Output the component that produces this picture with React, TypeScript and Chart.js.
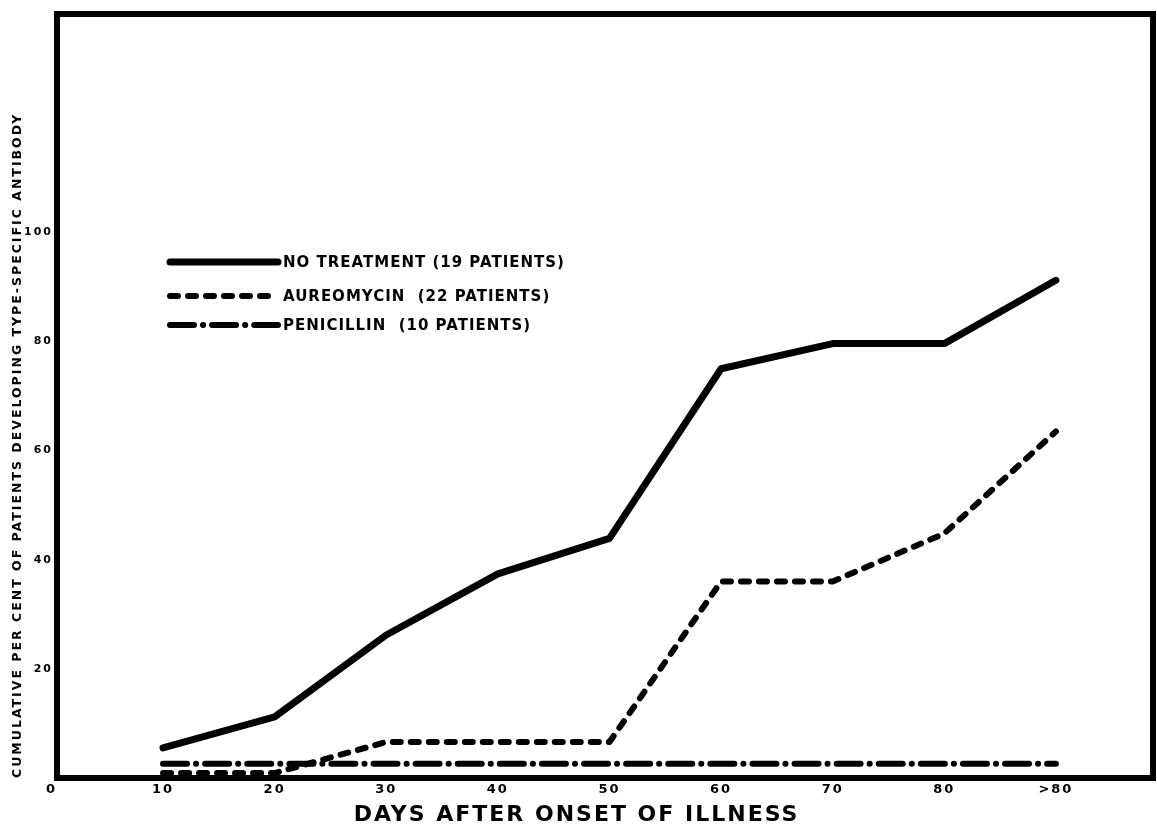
import React, { useEffect, useRef } from "react";
import { Chart, registerables } from "chart.js";

Chart.register(...registerables);

// ---- data ----
const days = [10, 20, 30, 40, 50, 60, 70, 80, 90]; // 90 stands for ">80"
const xTickValues = [0, 10, 20, 30, 40, 50, 60, 70, 80, 90];
const xTickText = ["0", "10", "20", "30", "40", "50", "60", "70", "80", ">80"];
const yTickValues = [20, 40, 60, 80, 100];

const noTreatment = [5.5, 11.2, 26.2, 37.4, 43.9, 75.0, 79.6, 79.6, 91.2];
const aureomycin = [0.9, 0.9, 6.6, 6.6, 6.6, 36.0, 36.0, 44.8, 63.5];
const penicillin = [2.6, 2.6, 2.6, 2.6, 2.6, 2.6, 2.6, 2.6, 2.6];

const seriesLabels = [
  "NO TREATMENT (19 PATIENTS)",
  "AUREOMYCIN  (22 PATIENTS)",
  "PENICILLIN  (10 PATIENTS)",
];

const xTitle = "DAYS AFTER ONSET OF ILLNESS";
const yTitle = "CUMULATIVE PER CENT OF PATIENTS DEVELOPING TYPE-SPECIFIC ANTIBODY";

const FONT = "'DejaVu Sans', sans-serif";

const spacingPlugin = {
  id: "letterSpacing",
  beforeDraw(chart: any) {
    (chart.ctx as any).letterSpacing = "2px";
  },
  afterDraw(chart: any) {
    (chart.ctx as any).letterSpacing = "0px";
  },
};

const framePlugin = {
  id: "frame",
  afterDatasetsDraw(chart: any) {
    const { ctx, chartArea } = chart;
    ctx.save();
    ctx.strokeStyle = "#000";
    ctx.lineWidth = 6;
    ctx.strokeRect(
      chartArea.left,
      chartArea.top,
      chartArea.right - chartArea.left,
      chartArea.bottom - chartArea.top
    );
    ctx.restore();
  },
};

const innerLegendPlugin = {
  id: "innerLegend",
  afterDatasetsDraw(chart: any, _args: any, opts: any) {
    const { ctx, chartArea } = chart;
    const x0 = chartArea.left + opts.lineStart;
    const x1 = chartArea.left + opts.lineEnd;
    ctx.save();
    chart.data.datasets.forEach((ds: any, i: number) => {
      const y = chartArea.top + opts.rows[i];
      ctx.beginPath();
      ctx.strokeStyle = ds.borderColor;
      ctx.lineWidth = ds.borderWidth;
      ctx.lineCap = ds.borderCapStyle || "butt";
      ctx.setLineDash(ds.borderDash || []);
      ctx.moveTo(x0, y);
      ctx.lineTo(x1, y);
      ctx.stroke();
      ctx.setLineDash([]);
      (ctx as any).letterSpacing = opts.letterSpacing;
      ctx.fillStyle = "#000";
      ctx.font = `bold ${opts.fontSize}px ${FONT}`;
      ctx.textAlign = "left";
      ctx.textBaseline = "alphabetic";
      ctx.fillText(ds.label, x1 + opts.textGap, y + opts.textShift);
    });
    ctx.restore();
  },
};

export default function App() {
  const canvasRef = useRef<HTMLCanvasElement | null>(null);

  useEffect(() => {
    if (!canvasRef.current) return;
    const mk = (d: number[]) => days.map((x, i) => ({ x, y: d[i] }));
    const chart = new Chart(canvasRef.current, {
      type: "line",
      data: {
        datasets: [
          {
            label: seriesLabels[0],
            data: mk(noTreatment),
            borderColor: "#000",
            borderWidth: 7,
            borderCapStyle: "round",
            borderJoinStyle: "round",
            pointRadius: 0,
            tension: 0,
          },
          {
            label: seriesLabels[1],
            data: mk(aureomycin),
            borderColor: "#000",
            borderWidth: 6,
            borderDash: [8, 10],
            borderCapStyle: "round",
            borderJoinStyle: "round",
            pointRadius: 0,
            tension: 0,
          },
          {
            label: seriesLabels[2],
            data: mk(penicillin),
            borderColor: "#000",
            borderWidth: 6,
            borderDash: [24, 9, 0.1, 9],
            borderCapStyle: "round",
            borderJoinStyle: "round",
            pointRadius: 0,
            tension: 0,
          },
        ],
      },
      options: {
        animation: false,
        responsive: true,
        maintainAspectRatio: false,
        layout: { padding: { top: 14, right: 4, left: 0, bottom: 0 } },
        plugins: {
          legend: { display: false },
          tooltip: { enabled: false },
          title: {
            display: true,
            position: "bottom",
            text: xTitle,
            color: "#000",
            font: { family: FONT, size: 22, weight: "bold", lineHeight: 1 },
            padding: 0,
          },
          innerLegend: {
            lineStart: 113,
            lineEnd: 221,
            rows: [248, 282, 311],
            textGap: 5,
            textShift: 5,
            fontSize: 15,
            letterSpacing: "1px",
          },
        } as any,
        scales: {
          x: {
            type: "linear",
            min: 0.5,
            max: 98.7,
            grid: { display: false, drawTicks: false },
            border: { display: false },
            afterBuildTicks: (scale: any) => {
              scale.ticks = xTickValues.map((v) => ({ value: v }));
            },
            afterFit: (scale: any) => {
              scale.height = 26;
            },
            ticks: {
              autoSkip: false,
              maxRotation: 0,
              padding: 4,
              color: "#000",
              font: { family: FONT, size: 13, weight: "bold" },
              callback: (v: any) => {
                const i = xTickValues.indexOf(Number(v));
                return i >= 0 ? xTickText[i] : "";
              },
            },
          },
          y: {
            type: "linear",
            min: 0,
            max: 140,
            grid: { display: false, drawTicks: false },
            border: { display: false },
            afterBuildTicks: (scale: any) => {
              scale.ticks = yTickValues.map((v) => ({ value: v }));
            },
            afterFit: (scale: any) => {
              scale.width = 57;
            },
            ticks: {
              autoSkip: false,
              padding: 4,
              color: "#000",
              font: { family: FONT, size: 11, weight: "bold" },
            },
            title: {
              display: true,
              text: yTitle,
              align: "start",
              color: "#000",
              font: { family: FONT, size: 12.5, weight: "bold" },
              padding: { top: 10, bottom: 0 },
            },
          },
        },
      } as any,
      plugins: [spacingPlugin, framePlugin, innerLegendPlugin],
    });
    return () => chart.destroy();
  }, []);

  return (
    <div
      style={{
        position: "absolute",
        left: 0,
        top: 0,
        width: 1157,
        height: 826,
        background: "#fff",
      }}
    >
      <canvas ref={canvasRef} />
    </div>
  );
}
